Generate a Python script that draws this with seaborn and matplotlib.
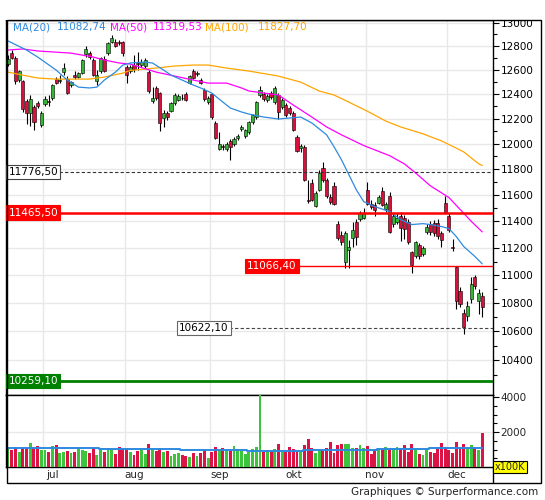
import numpy as np
import pandas as pd
import matplotlib
matplotlib.use("Agg")
import matplotlib.pyplot as plt
import seaborn as sns
from matplotlib.ticker import FixedLocator, NullFormatter, FuncFormatter
from matplotlib.patches import Rectangle
from matplotlib.lines import Line2D

# -------------------------------
# DATA
# -------------------------------
opens = [12650, 12740, 12700, 12515, 12505, 12343, 12245, 12295, 12326, 12150,
         12318, 12345, 12367, 12523, 12510, 12580, 12523, 12474, 12556, 12540,
         12573, 12732, 12740, 12682, 12507, 12590, 12690, 12740, 12834, 12834,
         12830, 12834, 12623, 12590, 12640, 12660, 12640, 12632, 12581, 12342,
         12450, 12408, 12205, 12245, 12262, 12326, 12351, 12370, 12400, 12490,
         12590, 12565, 12515, 12433, 12334, 12400, 12165, 11959, 11980, 11959,
         12022, 11998, 12046, 12117, 12060, 12090, 12173, 12213, 12392, 12400,
         12351, 12408, 12334, 12392, 12295, 12310, 12286, 12245, 12054, 11965,
         11975, 11560, 11694, 11518, 11640, 11810, 11717, 11587, 11671, 11382,
         11300, 11100, 11189, 11278, 11397, 11420, 11427, 11640, 11534, 11526,
         11541, 11632, 11496, 11594, 11382, 11397, 11442, 11427, 11397, 11167,
         11138, 11219, 11153, 11322, 11382, 11390, 11390, 11315, 11541, 11442,
         11210, 11058, 10884, 10728, 10706, 10827, 10985, 10813, 10848]
highs = [12720, 12770, 12715, 12600, 12515, 12360, 12392, 12310, 12345, 12260,
         12380, 12390, 12480, 12540, 12556, 12657, 12545, 12510, 12590, 12585,
         12690, 12800, 12760, 12695, 12598, 12710, 12715, 12835, 12894, 12860,
         12850, 12845, 12640, 12640, 12720, 12748, 12690, 12700, 12600, 12457,
         12470, 12420, 12270, 12260, 12335, 12410, 12400, 12400, 12415, 12560,
         12610, 12590, 12530, 12450, 12385, 12410, 12180, 12090, 12000, 12010,
         12040, 12050, 12080, 12150, 12120, 12180, 12240, 12345, 12466, 12420,
         12400, 12425, 12466, 12410, 12370, 12330, 12300, 12260, 12070, 12000,
         11990, 11717, 11720, 11630, 11790, 11857, 11730, 11610, 11700, 11400,
         11330, 11330, 11260, 11397, 11420, 11480, 11500, 11700, 11560, 11545,
         11600, 11660, 11545, 11620, 11460, 11460, 11470, 11445, 11420, 11180,
         11255, 11240, 11215, 11380, 11400, 11410, 11420, 11330, 11590, 11460,
         11270, 11066, 10915, 10760, 10813, 10985, 11000, 10898, 10877]
lows = [12630, 12690, 12480, 12500, 12250, 12160, 12140, 12109, 12290, 12130,
        12300, 12300, 12350, 12480, 12490, 12556, 12400, 12460, 12523, 12530,
        12565, 12707, 12690, 12545, 12474, 12575, 12580, 12720, 12826, 12790,
        12810, 12715, 12490, 12570, 12580, 12600, 12625, 12615, 12410, 12330,
        12355, 12104, 12133, 12190, 12250, 12310, 12340, 12350, 12340, 12480,
        12520, 12550, 12480, 12340, 12320, 12200, 12035, 11951, 11950, 11945,
        11873, 11985, 12030, 12100, 12045, 12080, 12160, 12200, 12375, 12340,
        12335, 12360, 12320, 12197, 12280, 12215, 12230, 12100, 11935, 11930,
        11710, 11540, 11550, 11505, 11630, 11700, 11580, 11530, 11520, 11260,
        11220, 11050, 11050, 11204, 11220, 11405, 11415, 11520, 11490, 11437,
        11530, 11515, 11470, 11310, 11360, 11380, 11250, 11270, 11230, 11014,
        11125, 11120, 11140, 11305, 11300, 11290, 11270, 11204, 11460, 11320,
        11175, 10760, 10770, 10580, 10670, 10800, 10900, 10720, 10700]
closes = [12690, 12700, 12510, 12590, 12278, 12245, 12358, 12173, 12302, 12245,
          12358, 12338, 12474, 12490, 12518, 12615, 12408, 12498, 12540, 12573,
          12682, 12775, 12707, 12556, 12556, 12699, 12590, 12826, 12868, 12800,
          12822, 12740, 12556, 12626, 12607, 12652, 12665, 12682, 12425, 12367,
          12367, 12165, 12245, 12213, 12326, 12392, 12383, 12364, 12351, 12548,
          12532, 12575, 12490, 12360, 12367, 12213, 12045, 11998, 11972, 11998,
          11975, 12038, 12062, 12133, 12109, 12170, 12229, 12334, 12433, 12359,
          12383, 12375, 12450, 12254, 12351, 12229, 12245, 12109, 11943, 11978,
          11717, 11552, 11564, 11617, 11771, 11717, 11594, 11549, 11534, 11278,
          11241, 11315, 11204, 11337, 11285, 11465, 11465, 11530, 11511, 11488,
          11587, 11526, 11534, 11322, 11442, 11427, 11352, 11345, 11241, 11072,
          11241, 11138, 11197, 11360, 11322, 11315, 11293, 11263, 11470, 11337,
          11200, 10813, 10791, 10629, 10777, 10934, 10920, 10870, 10770]

# volume in x100K
volumes = [1105, 990, 1162, 876, 1086, 1086, 1390, 1162, 1219, 990,
           990, 876, 1219, 1276, 819, 876, 933, 819, 876, 1105,
           990, 933, 819, 1162, 705, 1048, 876, 1105, 990, 762,
           1162, 1048, 1105, 876, 705, 933, 1048, 762, 1333, 1048,
           933, 1105, 876, 933, 648, 762, 819, 705, 648, 590,
           819, 648, 819, 990, 533, 876, 1162, 990, 1105, 990,
           990, 1219, 1048, 933, 762, 876, 1048, 1162, 4110, 876,
           990, 933, 1048, 1333, 876, 876, 1162, 1048, 876, 933,
           1276, 1619, 1105, 819, 990, 1048, 1105, 1448, 819, 1276,
           1333, 1333, 1333, 1105, 1105, 1276, 1105, 1219, 762, 1048,
           990, 1048, 1162, 1048, 1105, 1162, 1105, 1276, 876, 1333,
           1048, 762, 705, 1048, 876, 819, 1048, 1390, 1162, 990,
           819, 1448, 1162, 1333, 1105, 1276, 1105, 990, 1962]
vol_ma_steps = [1086, 1029, 971, 914, 990, 1029, 1086]
vol_ma_breaks = [0, 25, 47, 65, 80, 100, 114, 129]

# moving averages (bar index, value)
ma20_idx = [0, 5, 8, 13, 16, 19, 22, 24, 26, 29, 31, 33, 37, 39, 42, 44, 47, 50,
            52, 55, 58, 60, 63, 65, 69, 73, 76, 79, 82, 86, 88, 90, 92, 94, 96,
            99, 103, 106, 109, 112, 114, 117, 119, 121, 123, 126, 128]
ma20_val = [12843, 12766, 12707, 12598, 12515, 12457, 12450, 12457, 12515, 12581,
            12640, 12657, 12665, 12657, 12598, 12556, 12515, 12474, 12450, 12408,
            12334, 12286, 12254, 12237, 12213, 12197, 12205, 12213, 12165, 12070,
            11975, 11873, 11756, 11640, 11549, 11511, 11473, 11412, 11375, 11382,
            11375, 11360, 11345, 11285, 11211, 11138, 11083]
ma50_idx = [0, 4, 8, 17, 23, 26, 30, 33, 40, 45, 50, 54, 59, 63, 65, 73, 77, 82,
            86, 90, 96, 103, 107, 110, 114, 119, 122, 125, 128]
ma50_val = [12766, 12775, 12758, 12740, 12707, 12682, 12657, 12648, 12581, 12548,
            12515, 12490, 12490, 12450, 12425, 12392, 12310, 12213, 12133, 12070,
            11985, 11905, 11840, 11770, 11670, 11580, 11490, 11400, 11320]
ma100_idx = [0, 4, 8, 13, 22, 26, 31, 33, 40, 45, 50, 54, 59, 63, 65, 73, 79, 84,
             88, 92, 97, 102, 106, 112, 117, 123, 127, 128]
ma100_val = [12581, 12556, 12532, 12523, 12523, 12540, 12573, 12595, 12615, 12632,
             12640, 12640, 12615, 12598, 12590, 12548, 12498, 12425, 12392, 12334,
             12260, 12180, 12133, 12078, 12022, 11935, 11842, 11828]
ma_last = [11082.74, 11319.53, 11827.70]

# support / resistance levels
level_vals = [11776.50, 11465.50, 11066.40, 10622.10, 10259.10]
level_start = [0.15, 0.15, 64.5, 46.2, 0.15]

# months: index of first trading day
month_names = ["jul", "aug", "sep", "okt", "nov", "dec"]
month_idx = [9, 31, 54, 74, 96, 118]

# -------------------------------
# STYLE
# -------------------------------
sns.set_style("white")
plt.rcParams['font.family'] = ['DejaVu Sans']

GREEN = '#35b535'
RED = '#d8103c'
VGREEN = '#3cc43c'
VRED = '#dc1446'
BLUE = '#2d8ae0'
MAGENTA = '#ff00ff'
ORANGE = '#ffa500'
GRID = '#e8e8e8'
FS = 7.5

df = pd.DataFrame({'open': opens, 'high': highs, 'low': lows,
                   'close': closes, 'volume': volumes})
df['x'] = np.arange(len(df))
df['up'] = df['close'] >= df['open']

W_PX, H_PX = 545, 500
L = 6 / W_PX
W = (493 - 6) / W_PX
XLIM = (-0.54, 130.9)

fig = plt.figure(figsize=(W_PX / 100, H_PX / 100), dpi=100)
ax = fig.add_axes([L, 1 - 395 / H_PX, W, (395 - 20) / H_PX])
axv = fig.add_axes([L, 1 - 467 / H_PX, W, (467 - 395) / H_PX])

# -------------------------------
# PRICE PANEL
# -------------------------------
ax.set_yscale('log')
ax.set_ylim(10163, 13022)
ax.set_xlim(*XLIM)

major = np.arange(10400, 13001, 200)
minor = np.arange(10300, 13000, 200)
for v in major:
    ax.axhline(v, color=GRID, lw=1, zorder=0)
for m in month_idx:
    ax.axvline(m + 0.5, color=GRID, lw=1, zorder=0)
    axv.axvline(m + 0.5, color=GRID, lw=1, zorder=0)

# candles
ax.vlines(df['x'], df['low'], df['high'], color='black', lw=0.8, zorder=3)
body_lo = np.minimum(df['open'], df['close'])
body_h = np.maximum(np.abs(df['close'] - df['open']), 6)
ax.bar(df['x'], body_h, bottom=body_lo, width=0.85,
       color=np.where(df['up'], GREEN, RED), edgecolor='black',
       linewidth=0.4, zorder=4)

# moving averages
sns.lineplot(x=ma100_idx, y=ma100_val, ax=ax, color=ORANGE, lw=0.9, zorder=6)
sns.lineplot(x=ma50_idx, y=ma50_val, ax=ax, color=MAGENTA, lw=0.9, zorder=6)
sns.lineplot(x=ma20_idx, y=ma20_val, ax=ax, color=BLUE, lw=0.9, zorder=6)

# levels
styles = [
    dict(color='#333333', lw=0.8, ls=(0, (3, 2))),
    dict(color='#ff0000', lw=1.8, ls='-'),
    dict(color='#ff0000', lw=1.0, ls='-'),
    dict(color='#444444', lw=0.8, ls=(0, (3, 2))),
    dict(color='#008000', lw=2.0, ls='-'),
]
boxes = [
    dict(fc='white', ec='#444444', tc='black'),
    dict(fc='#ff0000', ec='#ff0000', tc='white'),
    dict(fc='#ff0000', ec='#ff0000', tc='white'),
    dict(fc='white', ec='#666666', tc='black'),
    dict(fc='#008000', ec='#008000', tc='white'),
]
for val, x0, st, bx in zip(level_vals, level_start, styles, boxes):
    ax.hlines(val, x0, XLIM[1], colors=st['color'], linewidth=st['lw'],
              linestyles=[st['ls']], zorder=7)
    ax.text(x0, val, f"{val:.2f}".replace('.', ','), ha='left', va='center',
            fontsize=FS, color=bx['tc'], zorder=9,
            bbox=dict(boxstyle='square,pad=0.2', fc=bx['fc'], ec=bx['ec'], lw=0.8))

ax.yaxis.set_major_locator(FixedLocator(major))
ax.yaxis.set_minor_locator(FixedLocator(minor))
ax.yaxis.set_major_formatter(FuncFormatter(lambda v, p: f"{v:.0f}"))
ax.yaxis.set_minor_formatter(NullFormatter())
ax.yaxis.tick_right()
ax.tick_params(axis='y', which='both', left=False, right=True, direction='out',
               color='black', width=0.8)
ax.tick_params(axis='y', which='major', length=4, labelsize=FS, pad=1.5,
               labelcolor='black')
ax.tick_params(axis='y', which='minor', length=3)
ax.set_xticks([])
ax.set_xlabel("")
ax.set_ylabel("")
for s in ax.spines.values():
    s.set_color('black')
    s.set_linewidth(1)

# header
header = [("MA(20)", 13, BLUE), (f"{ma_last[0]:.2f}".replace('.', ','), 57, BLUE),
          ("MA(50)", 110, MAGENTA), (f"{ma_last[1]:.2f}".replace('.', ','), 153, MAGENTA),
          ("MA(100)", 205, ORANGE), (f"{ma_last[2]:.2f}".replace('.', ','), 258, ORANGE)]
for txt, px, col in header:
    fig.text(px / W_PX, 1 - 27 / H_PX, txt, color=col, fontsize=FS,
             ha='left', va='center')

# -------------------------------
# VOLUME PANEL
# -------------------------------
axv.set_xlim(*XLIM)
axv.set_ylim(0, 4115)
axv.axhline(2000, color=GRID, lw=1, zorder=0)
axv.bar(df['x'], df['volume'], width=0.78, edgecolor='none', linewidth=0,
        color=np.where(df['up'], VGREEN, VRED), zorder=3)
vol_ma = np.repeat(vol_ma_steps, np.diff(vol_ma_breaks))
sns.lineplot(x=df['x'], y=vol_ma, ax=axv, color=BLUE, lw=1.4,
             drawstyle='steps-mid', zorder=5)

axv.yaxis.tick_right()
axv.set_yticks([2000, 4000])
axv.yaxis.set_minor_locator(FixedLocator([500, 1000, 1500, 2500, 3000, 3500]))
axv.yaxis.set_major_formatter(FuncFormatter(lambda v, p: f"{v:.0f}"))
axv.tick_params(axis='y', which='both', left=False, right=True, direction='out',
                color='black', width=0.8)
axv.tick_params(axis='y', which='major', length=4, labelsize=FS, pad=1.5)
axv.tick_params(axis='y', which='minor', length=3)
axv.set_xticks([m + 3 for m in month_idx])
axv.set_xticklabels(month_names)
axv.tick_params(axis='x', length=0, pad=2.5, labelsize=FS)
axv.set_xlabel("")
axv.set_ylabel("")
for s in axv.spines.values():
    s.set_color('black')
    s.set_linewidth(1)

# -------------------------------
# FRAME AND NOTES
# -------------------------------
fig.add_artist(Rectangle((0, 1 - 20 / H_PX), 1, 20 / H_PX, fc='white', ec='none',
                         transform=fig.transFigure, zorder=15))
fig.add_artist(Rectangle((6.5 / W_PX, 1 - 483 / H_PX), (541 - 6.5) / W_PX,
                         (483 - 20) / H_PX, fill=False, ec='black', lw=1,
                         transform=fig.transFigure, zorder=20))
fig.add_artist(Line2D([493 / W_PX, 493 / W_PX], [1 - 467 / H_PX, 1 - 483 / H_PX],
                      color='black', lw=1, transform=fig.transFigure, zorder=20))
fig.text(510 / W_PX, 1 - 467 / H_PX, "x100K", ha='center', va='center',
         fontsize=7, zorder=21,
         bbox=dict(boxstyle='square,pad=0.15', fc='#ffff00', ec='black', lw=0.8))
fig.text(538 / W_PX, 1 - 492 / H_PX, "Graphiques \u00a9 Surperformance.com",
         ha='right', va='center', fontsize=FS, color='#222222')

plt.savefig("out.png", dpi=100)
plt.close()
